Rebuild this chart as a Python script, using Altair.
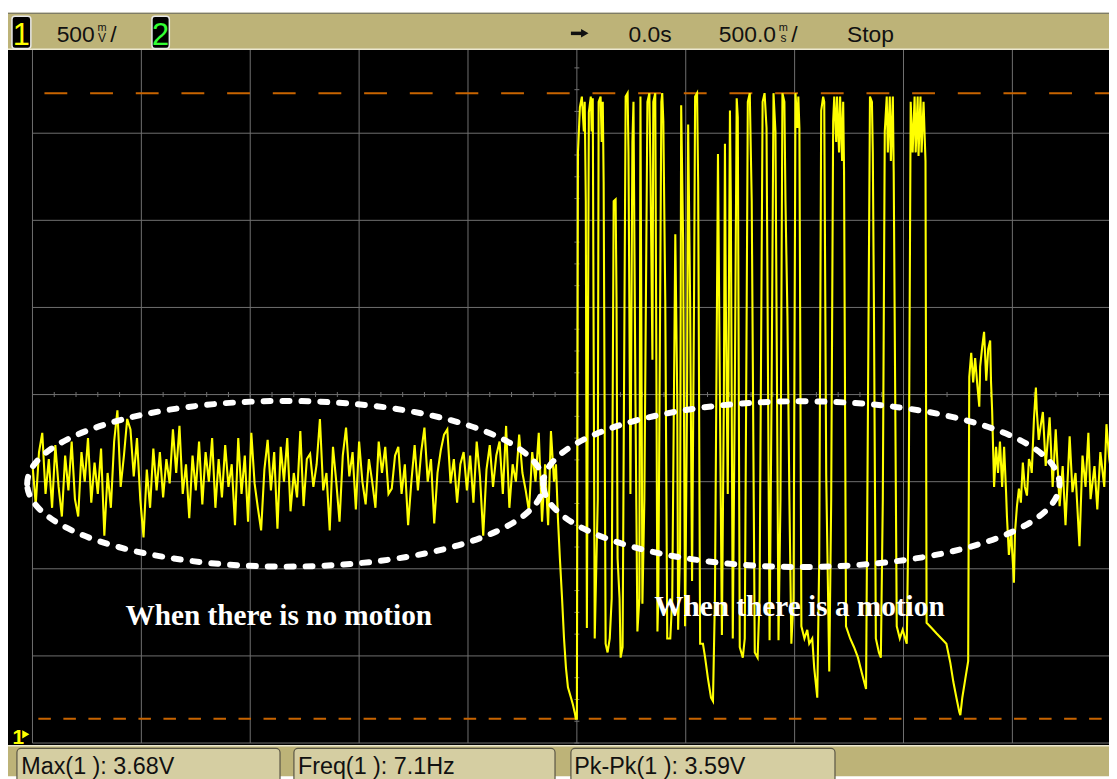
import altair as alt
import pandas as pd

# ---------------- oscilloscope settings ----------------
ms_per_div = 500
volts_per_div = 0.5
screen_center_v = 1.95
max_v = 3.68
pk_pk_v = 3.59
freq_hz = 7.1

# ---------------- channel 1 trace (time in ms, level in V) ----------------
# segment 1: no motion (noise)
noise_time_ms = [
    -2500, -2485, -2470, -2455, -2440, -2425, -2410, -2395, -2380, -2365,
    -2350, -2335, -2320, -2305, -2290, -2275, -2260, -2245, -2230, -2215,
    -2200, -2185, -2170, -2155, -2140, -2125, -2110, -2095, -2080, -2065,
    -2050, -2035, -2020, -2005, -1990, -1975, -1960, -1945, -1930, -1915,
    -1900, -1885, -1870, -1855, -1840, -1825, -1810, -1795, -1780, -1765,
    -1750, -1735, -1720, -1705, -1690, -1675, -1660, -1645, -1630, -1615,
    -1600, -1585, -1570, -1555, -1540, -1525, -1510, -1495, -1480, -1465,
    -1450, -1435, -1420, -1405, -1390, -1375, -1360, -1345, -1330, -1315,
    -1300, -1285, -1270, -1255, -1240, -1225, -1210, -1195, -1180, -1165,
    -1150, -1135, -1120, -1105, -1090, -1075, -1060, -1045, -1030, -1015,
    -1000, -985, -970, -955, -940, -925, -910, -895, -880, -865,
    -850, -835, -820, -805, -790, -775, -760, -745, -730, -715,
    -700, -685, -670, -655, -640, -625, -610, -595, -580, -565,
    -550, -535, -520, -505, -490, -475, -460, -445, -430, -415,
    -400, -385, -370, -355, -340, -325, -310, -295, -280, -265,
    -250, -235, -220, -205, -190, -175,
]
noise_volts = [
    1.55, 1.32, 1.62, 1.73, 1.38, 1.58, 1.30, 1.66, 1.42, 1.25,
    1.60, 1.40, 1.68, 1.35, 1.25, 1.62, 1.45, 1.70, 1.33, 1.56,
    1.38, 1.64, 1.14, 1.50, 1.30, 1.68, 1.86, 1.42, 1.60, 1.81,
    1.75, 1.48, 1.70, 1.35, 1.13, 1.52, 1.30, 1.64, 1.40, 1.62,
    1.36, 1.58, 1.44, 1.75, 1.50, 1.77, 1.38, 1.55, 1.24, 1.60,
    1.40, 1.68, 1.32, 1.62, 1.45, 1.70, 1.30, 1.58, 1.36, 1.66,
    1.42, 1.55, 1.20, 1.70, 1.38, 1.60, 1.22, 1.73, 1.44, 1.30,
    1.17, 1.52, 1.69, 1.40, 1.62, 1.18, 1.65, 1.45, 1.70, 1.28,
    1.50, 1.36, 1.74, 1.31, 1.58, 1.61, 1.42, 1.55, 1.81, 1.40,
    1.50, 1.17, 1.65, 1.45, 1.22, 1.60, 1.76, 1.48, 1.62, 1.29,
    1.68, 1.45, 1.32, 1.58, 1.45, 1.30, 1.68, 1.50, 1.65, 1.38,
    1.41, 1.60, 1.65, 1.38, 1.55, 1.20, 1.45, 1.66, 1.40, 1.62,
    1.76, 1.45, 1.58, 1.21, 1.50, 1.63, 1.72, 1.75, 1.44, 1.58,
    1.33, 1.55, 1.62, 1.40, 1.60, 1.33, 1.68, 1.48, 1.14, 1.52,
    1.66, 1.42, 1.60, 1.68, 1.38, 1.77, 1.30, 1.55, 1.45, 1.72,
    1.50, 1.40, 1.28, 1.62, 1.45, 1.73,
]

# segment 2: drop just before the trigger
drop_time_ms = [-160, -146, -132, -119, -105, -96, -87, -78, -68, -59, -50, -41, -27, -18, -9, -5]
drop_volts = [1.22, 1.55, 1.20, 1.74, 1.45, 1.55, 1.24, 1.01, 0.78, 0.55, 0.38, 0.27, 0.21, 0.17, 0.12, 0.09]

# segment 3: motion (pulse train)
motion_time_ms = [
    0, 5, 14, 23, 32, 36, 41, 46, 55, 64,
    68, 73, 82, 96, 100, 109, 114, 119, 123, 132,
    141, 151, 160, 169, 178, 182, 187, 196, 201, 210,
    224, 233, 237, 246, 255, 260, 269, 278, 287, 292,
    301, 310, 324, 333, 338, 347, 351, 360, 370, 374,
    388, 392, 397, 406, 415, 429, 438, 452, 461, 465,
    474, 479, 488, 497, 506, 511, 520, 529, 538, 543,
    552, 557, 566, 579, 589, 602, 616, 625, 634, 648,
    657, 666, 675, 680, 684, 693, 703, 707, 716, 725,
    734, 739, 748, 762, 771, 780, 785, 794, 803, 817,
    830, 839, 853, 862, 871, 885, 894, 903, 912, 926,
    935, 944, 953, 958, 967, 976, 985, 995, 1004, 1013,
    1017, 1022, 1031, 1045, 1058, 1067, 1081, 1090, 1104, 1113,
    1122, 1131, 1136, 1145, 1159, 1168, 1177, 1182, 1191, 1195,
    1204, 1209, 1218, 1223, 1227, 1236, 1255, 1273, 1291, 1309,
    1328, 1337, 1346, 1355, 1359, 1364, 1373, 1387, 1396, 1405,
    1414, 1423, 1428, 1437, 1442, 1451, 1455, 1469, 1483, 1496,
    1515, 1524, 1533, 1542, 1551, 1556, 1565, 1569, 1578, 1583,
    1592, 1601, 1606, 1629, 1651, 1674, 1697, 1715, 1729, 1743,
    1756, 1761, 1770, 1784, 1797, 1802,
]
motion_volts = [
    0.09, 3.34, 3.60, 3.66, 3.46, 3.63, 3.06, 0.61, 3.57, 3.66,
    3.46, 3.65, 0.55, 1.35, 3.63, 3.66, 3.40, 3.63, 3.17, 0.52,
    0.47, 0.55, 0.78, 3.06, 3.07, 2.51, 1.01, 0.78, 0.44, 0.50,
    3.66, 3.68, 3.34, 1.38, 3.40, 3.63, 1.92, 0.59, 0.78, 3.66,
    0.75, 1.35, 3.63, 3.68, 3.23, 2.15, 3.63, 3.68, 0.59, 0.78,
    3.63, 3.68, 3.52, 2.49, 0.55, 0.55, 0.78, 2.87, 1.92, 0.60,
    1.07, 3.61, 2.83, 0.62, 1.92, 3.50, 2.49, 0.88, 2.49, 3.66,
    3.68, 3.17, 0.52, 0.52, 0.44, 0.32, 0.21, 0.19, 0.78, 3.33,
    1.92, 0.57, 1.92, 3.39, 2.49, 1.38, 3.58, 3.06, 0.55, 1.92,
    3.65, 3.54, 0.50, 0.44, 0.55, 2.49, 3.63, 3.68, 3.06, 0.47,
    0.44, 0.78, 3.63, 3.68, 3.48, 0.54, 1.92, 3.68, 3.46, 0.54,
    1.35, 3.68, 3.63, 3.06, 2.40, 1.35, 0.52, 0.78, 3.68, 3.48,
    3.66, 3.48, 0.62, 0.55, 0.60, 0.52, 0.55, 0.38, 0.21, 1.01,
    3.58, 3.66, 3.63, 1.49, 0.36, 1.35, 3.52, 3.66, 3.40, 3.66,
    3.34, 3.66, 3.29, 3.63, 3.23, 0.62, 0.55, 0.50, 0.44, 0.35,
    0.26, 1.92, 3.66, 3.63, 3.34, 2.49, 0.55, 0.47, 0.44, 1.35,
    3.46, 3.66, 3.34, 3.66, 3.29, 3.66, 3.23, 0.62, 0.55, 0.60,
    0.52, 1.35, 3.63, 3.34, 3.66, 3.34, 3.66, 3.32, 3.66, 3.34,
    3.63, 3.29, 0.64, 0.61, 0.58, 0.55, 0.52, 0.41, 0.30, 0.21,
    0.13, 0.11, 0.21, 0.32, 0.42, 2.05,
]

# segment 4: after motion (bump, then noise again)
tail_time_ms = [
    1811, 1820, 1829, 1838, 1848, 1852, 1861, 1870, 1880, 1889,
    1898, 1902, 1907, 1916, 1925, 1934, 1943, 1953, 1962, 1971,
    1975, 1984, 1994, 2003, 2007, 2012, 2021, 2030, 2039, 2048,
    2057, 2067, 2076, 2085, 2089, 2099, 2108, 2112, 2121, 2130,
    2140, 2153, 2171, 2185, 2199, 2217, 2231, 2244, 2263, 2276,
    2290, 2308, 2322, 2336, 2349, 2359, 2377, 2390, 2404, 2422,
    2432, 2445, 2459,
]
tail_volts = [
    2.19, 2.02, 2.16, 2.02, 1.88, 2.11, 2.22, 2.31, 2.03, 2.21,
    2.26, 2.02, 1.86, 1.42, 1.65, 1.50, 1.68, 1.42, 1.65, 1.39,
    1.25, 1.03, 1.16, 0.97, 0.87, 1.16, 1.31, 1.41, 1.33, 1.56,
    1.42, 1.37, 1.58, 1.54, 1.50, 1.81, 1.99, 1.86, 1.69, 1.77,
    1.85, 1.54, 1.82, 1.42, 1.75, 1.31, 1.54, 1.20, 1.71, 1.39,
    1.50, 1.08, 1.60, 1.42, 1.73, 1.35, 1.54, 1.29, 1.62, 1.42,
    1.78, 1.58, 1.46,
]

# annotations (centres in ms / V)
ellipse_time_ms = [-1339, 1031]
ellipse_volts = [1.438, 1.436]
label_time_ms = [-1369, 1022]
label_volts = [0.63, 0.68]
label_texts = ["When there is no motion", "When there is a motion"]

# ---------------- build tables ----------------
times = noise_time_ms + drop_time_ms + motion_time_ms + tail_time_ms
volts = noise_volts + drop_volts + motion_volts + tail_volts
assert len(times) == len(volts)
trace = pd.DataFrame({"t": times, "v": volts, "i": range(len(times))})

W, H = 1109, 771
xs = alt.Scale(domain=[-2612.4, 2443.7], nice=False, zero=False)
ys = alt.Scale(domain=[-0.2405, 4.1527], nice=False, zero=False)

GRID = "#707070"
BAR = "#bdb378"
BOX = "#d5cea2"
FONT_SCOPE = "Liberation Sans, Arial, sans-serif"

one = pd.DataFrame({"_": [0]})


def deco_rect(x0, x1, y0, y1, **kw):
    return alt.Chart(one).mark_rect(**kw).encode(
        x=alt.value(x0), x2=alt.value(x1), y=alt.value(y0), y2=alt.value(y1)
    )


def deco_text(txt, x, y, **kw):
    kw.setdefault("font", FONT_SCOPE)
    kw.setdefault("color", "#111111")
    kw.setdefault("align", "left")
    kw.setdefault("baseline", "alphabetic")
    return alt.Chart(one).mark_text(text=txt, **kw).encode(x=alt.value(x), y=alt.value(y))


def deco_point(shape, x, y, size, color):
    return alt.Chart(one).mark_point(shape=shape, filled=True, size=size, color=color, opacity=1).encode(
        x=alt.value(x), y=alt.value(y)
    )


half_w = 5 * ms_per_div
half_h = 4 * volts_per_div
grid_t = [-half_w + ms_per_div * k for k in range(11)]
grid_v = [screen_center_v + volts_per_div * k for k in range(-4, 5)]
minor_t = [-half_w + ms_per_div / 5 * k for k in range(51)]
minor_v = [screen_center_v - half_h + volts_per_div / 4 * k for k in range(33)]

X = lambda f: alt.X(f, type="quantitative", scale=xs, axis=None)
Y = lambda f: alt.Y(f, type="quantitative", scale=ys, axis=None)

plot_bg = deco_rect(0, W, 38, 741, color="black")

vgrid = alt.Chart(pd.DataFrame({"t": grid_t, "v0": screen_center_v - half_h, "v1": screen_center_v + half_h})).mark_rule(
    color=GRID, strokeWidth=1
).encode(x=X("t"), y=Y("v0"), y2="v1")

hgrid = alt.Chart(pd.DataFrame({"v": grid_v, "t0": -half_w, "t1": half_w})).mark_rule(
    color=GRID, strokeWidth=1
).encode(y=Y("v"), x=X("t0"), x2="t1")

ticks_h = alt.Chart(pd.DataFrame({"t": minor_t, "v": screen_center_v})).mark_tick(
    orient="vertical", size=5, thickness=1, color=GRID, opacity=1
).encode(x=X("t"), y=Y("v"))

ticks_v = alt.Chart(pd.DataFrame({"t": 0, "v": minor_v})).mark_tick(
    orient="horizontal", size=5, thickness=1, color=GRID, opacity=1
).encode(x=X("t"), y=Y("v"))

max_line = alt.Chart(pd.DataFrame({"v": [max_v], "t0": [-2445], "t1": [2600]})).mark_rule(
    color="#c86400", strokeWidth=2, strokeDash=[23, 23]
).encode(y=Y("v"), x=X("t0"), x2="t1")

min_line = alt.Chart(pd.DataFrame({"v": [max_v - pk_pk_v], "t0": [-2473], "t1": [2600]})).mark_rule(
    color="#c86400", strokeWidth=2, strokeDash=[12.6, 12.6]
).encode(y=Y("v"), x=X("t0"), x2="t1")

signal = alt.Chart(trace).mark_line(color="#ffff00", strokeWidth=2.1, clip=True, strokeJoin="miter").encode(
    x=X("t"), y=Y("v"), order="i:Q"
)

ELLIPSE = "M -1 0 A 1 0.321 0 1 1 1 0 A 1 0.321 0 1 1 -1 0 Z"
ellipses = alt.Chart(pd.DataFrame({"t": ellipse_time_ms, "v": ellipse_volts})).mark_point(
    shape=ELLIPSE, size=520 * 520, filled=False, stroke="white", strokeWidth=6,
    strokeDash=[7, 12], strokeCap="round", opacity=1
).encode(x=X("t"), y=Y("v"))

labels = alt.Chart(pd.DataFrame({"t": label_time_ms, "v": label_volts, "s": label_texts})).mark_text(
    font="Liberation Serif", fontWeight="bold", fontSize=29.5, color="white", align="center", baseline="alphabetic"
).encode(x=X("t"), y=Y("v"), text="s:N")

ground_marker = alt.Chart(pd.DataFrame({"v": [0.0]})).mark_point(
    shape="triangle-right", filled=True, size=70, color="#ffff00", opacity=1
).encode(x=alt.value(18), y=Y("v"))

layers = [
    plot_bg, vgrid, hgrid, ticks_h, ticks_v, max_line, min_line, signal, ellipses, labels,
    # top status bar
    deco_rect(0, W, 2, 39, color=BAR),
    deco_rect(0, W, 2, 3, color="#6a6a60"),
    deco_rect(0, W, 38, 39.5, color="#ece8d0"),
    deco_rect(4, 23, 5.5, 38, color="black", stroke="#e8e8e8", strokeWidth=1.5, cornerRadius=3),
    deco_rect(145, 162.5, 5.5, 38, color="black", stroke="#e8e8e8", strokeWidth=1.5, cornerRadius=3),
    deco_text("1", 13.5, 34, fontSize=31, color="#ffff00", align="center"),
    deco_text("2", 153.7, 34, fontSize=31, color="#33ff33", align="center"),
    deco_text(f"{int(volts_per_div * 1000)}", 49, 31.3, fontSize=23),
    deco_text("m", 94.7, 20, fontSize=11, align="center"),
    deco_text("V", 94.7, 31, fontSize=12, align="center"),
    deco_text("/", 103, 31.3, fontSize=23),
    deco_rect(567, 579, 21, 24.5, color="#111111"),
    deco_point("triangle-right", 581, 22.7, 75, "#111111"),
    deco_text("0.0s", 625, 31.3, fontSize=23),
    deco_text(f"{ms_per_div:.1f}", 716, 31.3, fontSize=23),
    deco_text("m", 781, 20, fontSize=11, align="center"),
    deco_text("s", 781, 31, fontSize=12, align="center"),
    deco_text("/", 789, 31.3, fontSize=23),
    deco_text("Stop", 845, 31.3, fontSize=23),
    # bottom measurement bar
    deco_rect(0, W, 740, H, color=BAR),
    deco_rect(0, W, 739.5, 741, color="#ece8d0"),
    deco_rect(9, 274, 743, H + 6, color=BOX, stroke="#5a5646", strokeWidth=1.2, cornerRadius=4),
    deco_rect(288, 551, 743, H + 6, color=BOX, stroke="#5a5646", strokeWidth=1.2, cornerRadius=4),
    deco_rect(567, 833, 743, H + 6, color=BOX, stroke="#5a5646", strokeWidth=1.2, cornerRadius=4),
    deco_text(f"Max(1 ): {max_v:.2f}V", 13.4, 769, fontSize=23.5),
    deco_text(f"Freq(1 ): {freq_hz:.1f}Hz", 292, 769, fontSize=23.5),
    deco_text(f"Pk-Pk(1 ): {pk_pk_v:.2f}V", 570.4, 769, fontSize=23.5),
    # ground reference marker
    deco_text("1", 4.5, 739, fontSize=21, fontWeight="bold", color="#ffff00"),
    ground_marker,
]

chart = alt.layer(*layers).properties(
    width=W, height=H, padding=0, background="white",
    autosize=alt.AutoSizeParams(type="none"),
).configure_view(stroke=None)

chart.save("out.html", embed_options={"renderer": "svg", "actions": False})
